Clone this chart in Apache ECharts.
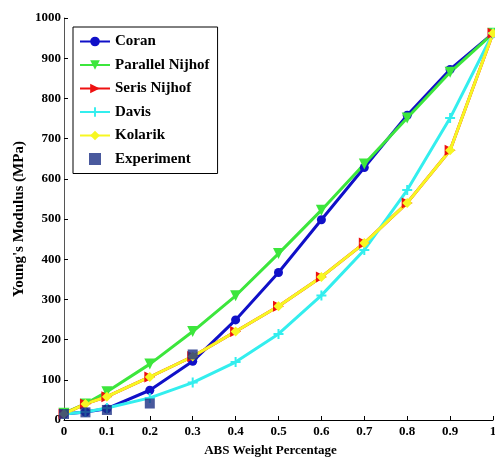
<!DOCTYPE html>
<html>
<head>
<meta charset="utf-8">
<script src="https://cdn.jsdelivr.net/npm/echarts@6/dist/echarts.min.js"></script>
<style>html,body{margin:0;padding:0;background:#fff}#c{width:495px;height:457px}</style>
</head>
<body>
<div id="c"></div>
<script>
const xValues = [0, 0.05, 0.1, 0.2, 0.3, 0.4, 0.5, 0.6, 0.7, 0.8, 0.9, 1];
const coran = [15, 20, 28, 74, 146, 249, 367, 498, 628, 758, 872, 962];
const parallelNijhof = [17, 40, 70, 139, 220, 309, 414, 522, 637, 751, 865, 962];
const serisNijhof = [15, 40, 58, 107, 158, 220, 283, 356, 440, 540, 671, 962];
const davis = [15, 20, 30, 55, 93, 144, 214, 310, 423, 572, 751, 962];
const kolarik = [15, 40, 58, 107, 158, 220, 283, 356, 440, 540, 671, 962];
const expX = [0, 0.05, 0.1, 0.2, 0.3];
const experiment = [15, 19, 25, 41, 163];
const xTickLabels = ['0', '0.1', '0.2', '0.3', '0.4', '0.5', '0.6', '0.7', '0.8', '0.9', '1'];

const pair = (xs, ys) => xs.map((x, i) => [x, ys[i]]);
const font = '"Liberation Serif", "Times New Roman", serif';
const plusPath = 'path://M4,0H6V4H10V6H6V10H4V6H0V4H4Z';

function lineSeries(name, data, color, symbol, size, rotate) {
  return {
    name, type: 'line', data: pair(xValues, data),
    symbol, symbolSize: size, symbolRotate: rotate || 0,
    lineStyle: { color, width: 3 },
    itemStyle: { color },
    animation: false
  };
}

const chart = echarts.init(document.getElementById('c'));
chart.setOption({
  backgroundColor: '#fff',
  animation: false,
  grid: { left: 64, right: 2, top: 18, bottom: 37, containLabel: false, outerBoundsMode: 'none' },
  legend: {
    orient: 'vertical', left: 73, top: 27,
    itemWidth: 30, itemHeight: 12, itemGap: 8.5,
    padding: [7, 8, 7, 6],
    borderColor: '#000', borderWidth: 1,
    backgroundColor: '#fff',
    textStyle: { fontFamily: font, fontWeight: 'bold', fontSize: 15, color: '#000' },
    data: ['Coran', 'Parallel Nijhof', 'Seris Nijhof', 'Davis', 'Kolarik',
      { name: 'Experiment', icon: 'path://M0,0H10V10H0Z' }]
  },
  xAxis: {
    type: 'value', min: 0, max: 1, interval: 0.1,
    name: 'ABS Weight Percentage', nameLocation: 'middle', nameGap: 24,
    nameTextStyle: { fontFamily: font, fontWeight: 'bold', fontSize: 13, color: '#000', padding: [0, 16, 0, 0], verticalAlign: 'top' },
    axisLine: { lineStyle: { color: '#000', width: 1 } },
    axisTick: { inside: true, length: 4, lineStyle: { color: '#000' } },
    axisLabel: { fontFamily: font, fontWeight: 'bold', fontSize: 13, color: '#000', margin: 5,
      formatter: (v) => xTickLabels[Math.round(v * 10)] },
    splitLine: { show: false }
  },
  yAxis: {
    type: 'value', min: 0, max: 1000, interval: 100,
    name: "Young's Modulus (MPa)", nameLocation: 'middle', nameGap: 37, nameMoveOverlap: false,
    nameTextStyle: { fontFamily: font, fontWeight: 'bold', fontSize: 15, color: '#000' },
    axisLine: { show: true, lineStyle: { color: '#555', width: 1 } },
    axisTick: { show: true, inside: true, length: 4, lineStyle: { color: '#000' } },
    axisLabel: { fontFamily: font, fontWeight: 'bold', fontSize: 13, color: '#000', margin: 3,
      formatter: (v) => String(v) },
    splitLine: { show: false }
  },
  series: [
    lineSeries('Coran', coran, '#1010c8', 'circle', 9),
    lineSeries('Parallel Nijhof', parallelNijhof, '#3ce63c', 'triangle', 11, 180),
    lineSeries('Seris Nijhof', serisNijhof, '#ee1010', 'triangle', 11, -90),
    lineSeries('Davis', davis, '#33eeee', plusPath, 10),
    lineSeries('Kolarik', kolarik, '#f7f722', 'diamond', 10),
    {
      name: 'Experiment', type: 'scatter', data: pair(expX, experiment),
      symbol: 'rect', symbolSize: 10,
      itemStyle: { color: '#1c2f85' }, z: 5
    }
  ]
});
</script>
</body>
</html>
